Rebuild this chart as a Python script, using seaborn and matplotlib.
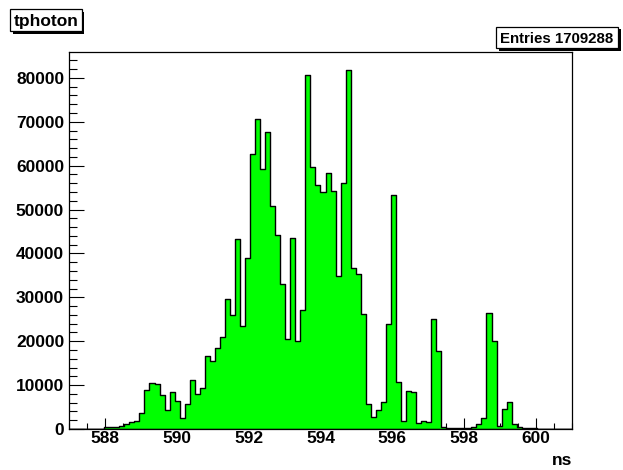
import numpy as np
import pandas as pd
import matplotlib
matplotlib.use("Agg")
import matplotlib.pyplot as plt
from matplotlib.patches import Rectangle
from matplotlib.ticker import MultipleLocator, FixedLocator
import seaborn as sns

# Histogram "tphoton": 100 bins over [587, 601] ns
x_min, x_max, n_bins = 587.0, 601.0, 100
counts = [
    0, 0, 0, 0, 0, 0, 0, 380, 460, 530,
    760, 1220, 1670, 1750, 3650, 8810, 10490, 10330, 7750, 4410,
    8510, 6380, 2510, 5780, 11170, 8000, 9270, 16700, 15400, 18500,
    21000, 29600, 25900, 43300, 23400, 38900, 62700, 70700, 59300, 67600,
    50800, 44200, 33100, 20600, 43500, 20000, 27200, 80600, 59600, 55700,
    53900, 58400, 54300, 34900, 56000, 81800, 36700, 35200, 26100, 5700,
    2650, 4350, 6200, 23900, 53200, 10800, 1900, 8700, 8500, 1300,
    1900, 1600, 25100, 17700, 450, 300, 300, 300, 300, 250,
    450, 1050, 2600, 26400, 20000, 750, 4600, 6100, 1100, 450,
    330, 330, 298, 0, 0, 0, 0, 0, 0, 0,
]
hist_title = "tphoton"
x_title = "ns"
x_major_ticks = [588, 590, 592, 594, 596, 598, 600]
y_major_ticks = [0, 10000, 20000, 30000, 40000, 50000, 60000, 70000, 80000]

edges = np.linspace(x_min, x_max, n_bins + 1)
centers = 0.5 * (edges[:-1] + edges[1:])
df = pd.DataFrame({"t": centers, "n": counts})
entries = int(sum(counts))

sns.set_theme(style="white")
plt.rcParams["font.family"] = ["Liberation Sans", "DejaVu Sans"]
plt.rcParams["font.weight"] = "bold"

W, H = 623, 470
fig = plt.figure(figsize=(W / 100, H / 100), dpi=100)
fig.patch.set_facecolor("white")

# frame position in pixels
L, R, T, B = 69, 572, 52, 429
ax = fig.add_axes([L / W, 1 - B / H, (R - L) / W, (B - T) / H])

sns.histplot(
    data=df, x="t", weights="n", bins=n_bins, binrange=(x_min, x_max),
    element="step", fill=True, color="#00ff00", alpha=1.0,
    edgecolor="black", linewidth=1.0, ax=ax,
)

ax.set_xlim(x_min, x_max)
ax.set_ylim(0, 1.05 * max(counts))
ax.set_xlabel("")
ax.set_ylabel("")
ax.set_facecolor("white")

for s in ax.spines.values():
    s.set_visible(True)
    s.set_color("black")
    s.set_linewidth(0.9)

ax.xaxis.set_major_locator(FixedLocator(x_major_ticks))
ax.xaxis.set_minor_locator(MultipleLocator(0.5))
ax.yaxis.set_major_locator(FixedLocator(y_major_ticks))
ax.yaxis.set_minor_locator(MultipleLocator(2000))
ax.set_xticklabels([str(v) for v in x_major_ticks])
ax.set_yticklabels([str(v) for v in y_major_ticks])

ax.tick_params(axis="both", which="both", direction="in", top=False, right=False,
               bottom=True, left=True, color="black", labelcolor="black",
               labelsize=12.5, width=0.8)
ax.tick_params(axis="x", which="major", length=8.1, pad=1.5)
ax.tick_params(axis="x", which="minor", length=4.1)
ax.tick_params(axis="y", which="major", length=10.9, pad=3.5)
ax.tick_params(axis="y", which="minor", length=5.4)
for lab in ax.get_xticklabels() + ax.get_yticklabels():
    lab.set_fontweight("bold")

# axis title at the right end of the x axis
fig.text(R / W, 1 - 465 / H, x_title, ha="right", va="baseline",
         fontsize=12.5, fontweight="bold", color="black")


def pave(x0, y0, x1, y1, text, size, shadow=2.5):
    """Draw a ROOT-style box with a drop shadow (pixel coordinates)."""
    fig.patches.append(Rectangle(((x0 + shadow) / W, 1 - (y1 + shadow) / H),
                                 (x1 - x0) / W, (y1 - y0) / H,
                                 transform=fig.transFigure, facecolor="black",
                                 edgecolor="none", zorder=5))
    fig.patches.append(Rectangle((x0 / W, 1 - y1 / H), (x1 - x0) / W, (y1 - y0) / H,
                                 transform=fig.transFigure, facecolor="white",
                                 edgecolor="black", linewidth=0.9, zorder=6))
    fig.text((x0 + x1) / 2 / W, 1 - (y0 + y1) / 2 / H, text, ha="center",
             va="center_baseline", fontsize=size, fontweight="bold",
             color="black", zorder=7)


pave(10, 9, 82, 31, hist_title, 12.5)
pave(496, 27, 618, 48, f"Entries {entries}", 10.8)

fig.savefig("out.png", dpi=100, facecolor="white")
